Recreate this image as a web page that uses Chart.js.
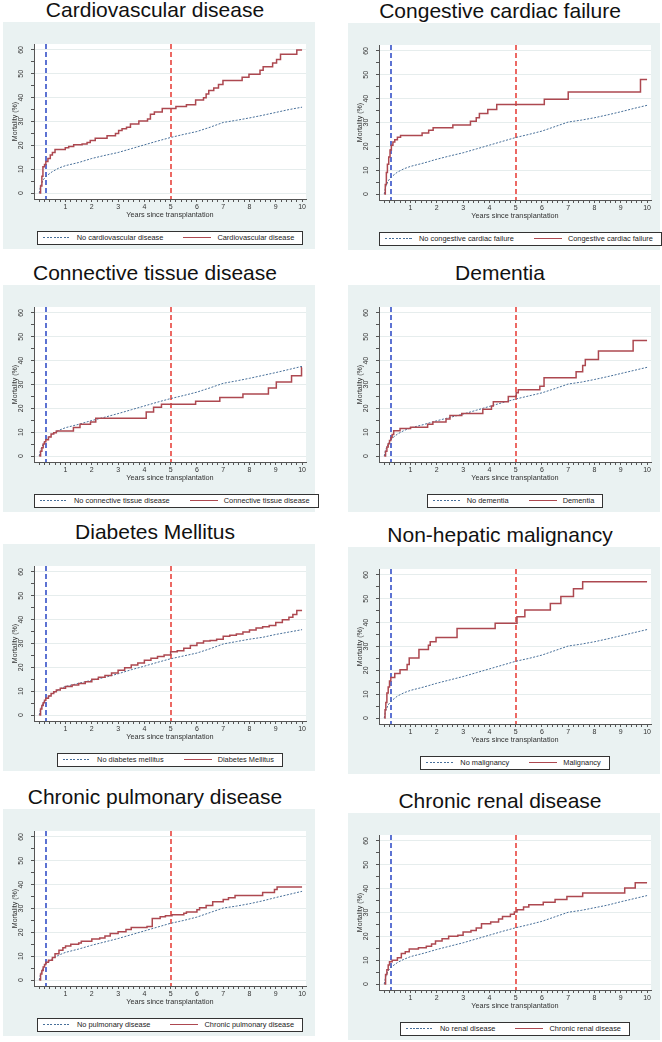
<!DOCTYPE html>
<html>
<head>
<meta charset="utf-8">
<title>Mortality after transplantation by comorbidity</title>
<script src="https://cdn.jsdelivr.net/npm/chart.js@4.4.1/dist/chart.umd.min.js"></script>
<style>
body { margin: 0; background: #fff; font-family: "Liberation Sans", Arial, sans-serif; }
#page { position: relative; width: 662px; height: 1042px; overflow: hidden; }
.ttl { position: absolute; width: 304px; text-align: center; font-size: 21px; line-height: 21px; color: #111; white-space: nowrap; }
.panel { position: absolute; width: 312px; height: 227px; background: #eaf2f2; }
.panel canvas { position: absolute; left: 0; top: 0; }
.lgwrap { position: absolute; left: 31px; top: 202px; width: 272px; text-align: center; }
.lg { display: inline-flex; align-items: center; height: 12px; border: 1px solid #333; background: #fff; padding: 0 8px 0 5px; gap: 20px; font-size: 7.4px; color: #222; }
.item { display: flex; align-items: center; white-space: nowrap; }
.key { width: 28px; margin-right: 6px; }
.key.dot { height: 1px; background: repeating-linear-gradient(to right, #48709a 0 2px, transparent 2px 3.5px); }
.key.solid { height: 1.5px; background: #ad4850; }
</style>
</head>
<body>
<div id="page"></div>
<script>
// time axis of the smooth reference curves (years)
const years = [0, 0.05, 0.15, 0.25, 0.5, 0.75, 1, 1.5, 2, 2.5, 3, 3.5, 4, 4.5, 5, 5.5, 6, 6.5, 7, 7.5, 8, 8.5, 9, 9.5, 10];

// patients without the comorbidity (%)
const noCvd = [0, 3, 5.5, 7, 9, 10.5, 11.5, 12.8, 14.5, 15.8, 17, 18.6, 20.2, 21.8, 23.3, 24.6, 25.8, 27.6, 29.6, 30.5, 31.5, 32.6, 33.8, 35, 36];
const noCcf = [0, 3, 5.5, 7, 9.2, 10.6, 11.6, 13, 14.6, 16, 17.3, 18.9, 20.5, 22.1, 23.7, 25, 26.4, 28.3, 30.2, 31, 32, 33.2, 34.5, 35.9, 37.2];
const noCtd = [0, 2.5, 5, 6.8, 9.3, 10.8, 11.9, 13.3, 14.9, 16.3, 17.8, 19.4, 21, 22.6, 24.1, 25.4, 26.8, 28.6, 30.5, 31.5, 32.6, 33.8, 35, 36.3, 37.6];
const noDem = [0, 2.5, 5, 7, 9.2, 10.7, 11.8, 13.2, 14.8, 16.2, 17.6, 19.2, 20.8, 22.4, 23.9, 25.2, 26.5, 28.3, 30.2, 31, 32.1, 33.3, 34.6, 35.9, 37.2];
const noDm = [0, 2.5, 5, 6.8, 9, 10.8, 12, 13.3, 14.6, 15.8, 17.3, 19, 20.5, 22.1, 23.6, 24.8, 26, 27.8, 29.8, 30.8, 31.8, 32.6, 33.8, 34.8, 35.8];
const noMal = [0, 3, 5.5, 7, 9.2, 10.6, 11.6, 13, 14.6, 16, 17.4, 19, 20.6, 22.2, 23.8, 25, 26.4, 28.3, 30.2, 31, 32, 33.2, 34.5, 35.8, 37.1];
const noPul = [0, 2.5, 5, 6.8, 9, 10.5, 11.6, 13, 14.6, 16, 17.4, 19, 20.6, 22.2, 23.8, 25, 26.4, 28.3, 30.2, 31, 32, 33.2, 34.6, 35.9, 37.2];
const noRen = [0, 3, 5.5, 7, 9, 10.4, 11.5, 12.9, 14.5, 15.9, 17.3, 18.9, 20.5, 22.1, 23.6, 24.9, 26.3, 28.2, 30.1, 30.9, 32, 33.1, 34.5, 35.8, 37.1];

// patients with the comorbidity: event times (years) and mortality after each step (%)
const cvdTimes = [0, 0.05, 0.1, 0.14, 0.2, 0.25, 0.33, 0.42, 0.5, 0.6, 0.99, 1.12, 1.31, 1.63, 1.82, 1.94, 2.13, 2.58, 2.9, 3.02, 3.15, 3.32, 3.47, 3.79, 4.12, 4.23, 4.38, 4.68, 5.2, 5.6, 5.95, 6.25, 6.35, 6.45, 6.64, 6.82, 6.99, 7.72, 7.98, 8.4, 8.52, 8.88, 9.03, 9.18, 9.8, 10];
const cvdValues = [0, 3, 7, 11, 12, 13.2, 14.5, 16, 17, 18.3, 19, 19.5, 20.2, 20.6, 21.2, 22, 23, 24, 25, 26.2, 27, 27.6, 29, 30.2, 31, 33, 34, 35.5, 36.3, 37, 39, 40, 41.5, 43, 44, 45.5, 47.2, 48.6, 49.8, 51.5, 53, 54.5, 56, 58.2, 60, 60];

const ccfTimes = [0, 0.04, 0.08, 0.12, 0.17, 0.22, 0.27, 0.33, 0.4, 0.5, 0.62, 1.44, 1.69, 1.86, 2.61, 3.28, 3.5, 3.62, 3.94, 4.28, 6.09, 7.0, 9.75, 10];
const ccfValues = [0, 4, 9, 12.5, 15.5, 18.5, 20.5, 21.8, 22.8, 23.8, 24.6, 25.6, 26.8, 27.8, 29, 30.5, 32, 33.8, 35.5, 37.5, 39.8, 42.8, 48, 48];

const ctdTimes = [0, 0.05, 0.1, 0.15, 0.2, 0.25, 0.35, 0.45, 0.55, 0.65, 1.3, 1.55, 1.95, 2.15, 4.07, 4.35, 4.65, 5.95, 6.87, 7.75, 8.72, 9.02, 9.6, 9.98, 10];
const ctdValues = [0, 2, 3.5, 5, 6, 6.8, 8, 9.2, 9.8, 10.5, 12, 13.3, 14.3, 15.8, 18.5, 20.5, 21.7, 23, 24.5, 26, 28.5, 31, 33.7, 37, 37];

const demTimes = [0, 0.05, 0.1, 0.15, 0.2, 0.25, 0.3, 0.36, 0.6, 1.0, 1.65, 1.85, 2.35, 2.5, 2.95, 3.75, 4.08, 4.15, 4.72, 5.02, 5.1, 5.92, 6.08, 7.3, 7.55, 7.65, 8.15, 9.47, 10];
const demValues = [0, 2, 3.8, 5.2, 6.5, 7.8, 9, 10.6, 11.6, 12.1, 13.3, 14.3, 15.5, 17, 17.8, 19.6, 21, 22.8, 25, 26.5, 27.8, 29.3, 32.8, 35.3, 38, 40.5, 44, 48.5, 48.5];

const dmTimes = [0, 0.05, 0.1, 0.15, 0.2, 0.25, 0.35, 0.45, 0.55, 0.65, 0.8, 1, 1.25, 1.5, 1.75, 2, 2.25, 2.5, 2.75, 3, 3.25, 3.5, 3.75, 4, 4.25, 4.5, 4.75, 5, 5.25, 5.5, 5.75, 6, 6.25, 6.5, 6.75, 7, 7.25, 7.5, 7.75, 8, 8.25, 8.5, 8.75, 9, 9.25, 9.5, 9.65, 9.8, 10];
const dmValues = [0, 2.5, 4, 5.2, 6.2, 7, 8, 9, 9.8, 10.5, 11.2, 12, 12.6, 13.2, 14, 15, 15.8, 16.6, 17.6, 18.8, 19.8, 21, 21.8, 23, 23.8, 24.5, 25.2, 26.5, 27, 28, 29.2, 30.2, 31, 31.3, 31.8, 33, 33.5, 34, 34.8, 35.7, 36.5, 37, 37.6, 38.8, 40, 41, 42.2, 43.8, 43.8];

const malTimes = [0, 0.03, 0.06, 0.1, 0.15, 0.2, 0.25, 0.4, 0.6, 0.87, 0.95, 1.32, 1.68, 1.75, 1.97, 2.77, 4.22, 5.05, 5.35, 6.32, 6.72, 7.2, 7.55, 10];
const malValues = [0, 3.5, 6.5, 10.5, 13, 15.5, 17, 18.7, 20.3, 22.5, 25.2, 28.7, 30.5, 32, 33.8, 37.5, 39.7, 42.5, 45.3, 48, 51, 54.2, 57.2, 57.2];

const pulTimes = [0, 0.05, 0.1, 0.15, 0.2, 0.25, 0.35, 0.5, 0.6, 0.75, 0.9, 1.0, 1.2, 1.5, 1.6, 2.0, 2.3, 2.5, 2.7, 3.0, 3.3, 3.5, 4.1, 4.3, 4.6, 4.8, 5.05, 5.5, 5.6, 6.0, 6.1, 6.35, 6.6, 7.0, 7.2, 7.45, 8.5, 8.95, 9.05, 10];
const pulValues = [0, 2.5, 4, 5.5, 6.5, 7.5, 8.3, 9.5, 11, 12.5, 13.5, 14.3, 15, 15.5, 16.3, 17.2, 17.6, 18.5, 19.5, 20.3, 21.2, 22, 22.5, 25.8, 26.5, 27, 27.4, 28, 28.5, 29.5, 30.3, 31.3, 32.8, 33.8, 34.5, 35.5, 36.7, 38, 39, 39];

const renTimes = [0, 0.05, 0.1, 0.15, 0.2, 0.3, 0.5, 0.65, 0.8, 0.95, 1.3, 1.6, 1.8, 1.95, 2.2, 2.45, 2.8, 3.0, 3.3, 3.5, 3.7, 4.05, 4.35, 4.5, 4.8, 4.95, 5.05, 5.3, 5.5, 6.05, 6.5, 6.95, 7.55, 9.15, 9.55, 10];
const renValues = [0, 4, 6, 8, 9.3, 10, 11, 12.8, 13.5, 14.7, 15.2, 15.8, 16.8, 18, 19, 20, 20.5, 21.8, 22.5, 23.5, 25.3, 26, 27.3, 28.3, 29.3, 30.2, 31.2, 32.3, 33.3, 34.3, 35.5, 36.7, 38.2, 40.3, 42.5, 42.5];

// vertical reference lines: 3 months and 5 years
const cutoffs = [0.25, 5];
const cutoffColors = ['#3550c8', '#e8443e'];

const xTickLabels = [1, 2, 3, 4, 5, 6, 7, 8, 9, 10];
const yTickLabels = [0, 10, 20, 30, 40, 50, 60];

const panels = [
  { title: 'Cardiovascular disease', noLabel: 'No cardiovascular disease', label: 'Cardiovascular disease', no: noCvd, t: cvdTimes, v: cvdValues },
  { title: 'Congestive cardiac failure', noLabel: 'No congestive cardiac failure', label: 'Congestive cardiac failure', no: noCcf, t: ccfTimes, v: ccfValues },
  { title: 'Connective tissue disease', noLabel: 'No connective tissue disease', label: 'Connective tissue disease', no: noCtd, t: ctdTimes, v: ctdValues },
  { title: 'Dementia', noLabel: 'No dementia', label: 'Dementia', no: noDem, t: demTimes, v: demValues },
  { title: 'Diabetes Mellitus', noLabel: 'No diabetes mellitus', label: 'Diabetes Mellitus', no: noDm, t: dmTimes, v: dmValues },
  { title: 'Non-hepatic malignancy', noLabel: 'No malignancy', label: 'Malignancy', no: noMal, t: malTimes, v: malValues },
  { title: 'Chronic pulmonary disease', noLabel: 'No pulmonary disease', label: 'Chronic pulmonary disease', no: noPul, t: pulTimes, v: pulValues },
  { title: 'Chronic renal disease', noLabel: 'No renal disease', label: 'Chronic renal disease', no: noRen, t: renTimes, v: renValues }
];

const panelLeft = [3, 348];
const panelTop = [22, 23, 285, 285, 544, 547, 809, 813];
const fontFam = '"Liberation Sans", Arial, sans-serif';

const plotBg = {
  id: 'plotBg',
  beforeDraw(chart) {
    const a = chart.chartArea;
    const ctx = chart.ctx;
    ctx.save();
    ctx.fillStyle = '#ffffff';
    ctx.fillRect(a.left, a.top, a.right - a.left, a.bottom - a.top);
    ctx.restore();
  }
};

const refLines = {
  id: 'refLines',
  beforeDatasetsDraw(chart) {
    const a = chart.chartArea;
    const ctx = chart.ctx;
    ctx.save();
    ctx.lineWidth = 1.6;
    ctx.setLineDash([5, 3]);
    cutoffs.forEach((c, i) => {
      const px = Math.round(chart.scales.x.getPixelForValue(c));
      ctx.strokeStyle = cutoffColors[i];
      ctx.beginPath();
      ctx.moveTo(px, a.top);
      ctx.lineTo(px, a.bottom);
      ctx.stroke();
    });
    ctx.restore();
  }
};

// Stata style y labels, turned to read bottom to top
const yLabels = {
  id: 'yLabels',
  afterDraw(chart) {
    const ys = chart.scales.y;
    const ctx = chart.ctx;
    const x = chart.chartArea.left - 12.5;
    ctx.save();
    ctx.fillStyle = '#333';
    ctx.font = '7px ' + fontFam;
    ctx.textAlign = 'center';
    ctx.textBaseline = 'middle';
    yTickLabels.forEach(v => {
      ctx.save();
      ctx.translate(x, ys.getPixelForValue(v));
      ctx.rotate(-Math.PI / 2);
      ctx.fillText(String(v), 0, 0);
      ctx.restore();
    });
    ctx.restore();
  }
};

const page = document.getElementById('page');

panels.forEach((p, i) => {
  const left = panelLeft[i % 2];
  const top = panelTop[i];

  const ttl = document.createElement('div');
  ttl.className = 'ttl';
  ttl.style.left = left + 'px';
  ttl.style.top = (top - 23) + 'px';
  ttl.textContent = p.title;
  page.appendChild(ttl);

  const box = document.createElement('div');
  box.className = 'panel';
  box.style.left = left + 'px';
  box.style.top = top + 'px';
  page.appendChild(box);

  const cv = document.createElement('canvas');
  cv.width = 312;
  cv.height = 200;
  box.appendChild(cv);

  const lgwrap = document.createElement('div');
  lgwrap.className = 'lgwrap';
  lgwrap.innerHTML = '<div class="lg"><div class="item"><div class="key dot"></div>' + p.noLabel +
    '</div><div class="item"><div class="key solid"></div>' + p.label + '</div></div>';
  box.appendChild(lgwrap);

  new Chart(cv.getContext('2d'), {
    type: 'line',
    data: {
      datasets: [
        {
          label: p.label,
          data: p.t.map((t, k) => ({ x: t, y: p.v[k] })),
          borderColor: '#ad4850',
          borderWidth: 1.5,
          stepped: true,
          pointRadius: 0
        },
        {
          label: p.noLabel,
          data: years.map((t, k) => ({ x: t, y: p.no[k] })),
          borderColor: '#48709a',
          borderWidth: 1,
          borderDash: [2, 1.5],
          pointRadius: 0
        }
      ]
    },
    options: {
      responsive: false,
      animation: false,
      devicePixelRatio: 1,
      layout: { padding: { top: 22, right: 9, left: 0, bottom: 0 } },
      plugins: { legend: { display: false }, tooltip: { enabled: false } },
      scales: {
        x: {
          type: 'linear',
          min: -0.2,
          max: 10.15,
          afterBuildTicks: s => {
            const ticks = [];
            for (let k = 0; k <= 50; k++) ticks.push({ value: k / 5 });
            s.ticks = ticks;
          },
          afterFit: s => { s.height = 23; },
          ticks: {
            autoSkip: false,
            minRotation: 0,
            maxRotation: 0,
            padding: 1,
            color: '#333',
            font: { size: 7, family: fontFam },
            callback: v => {
              const r = Math.round(v);
              return (Math.abs(v - r) < 1e-6 && xTickLabels.includes(r)) ? String(r) : '';
            }
          },
          grid: { drawOnChartArea: false, tickLength: 3, tickColor: '#555' },
          border: { display: true, color: '#555', width: 1 },
          title: {
            display: true,
            text: 'Years since transplantation',
            color: '#333',
            padding: { top: 0, bottom: 3 },
            font: { size: 7.3, family: fontFam }
          }
        },
        y: {
          min: -2.5,
          max: 62.5,
          afterBuildTicks: s => {
            const ticks = [];
            for (let k = 0; k <= 12; k++) ticks.push({ value: k * 5 });
            s.ticks = ticks;
          },
          afterFit: s => { s.width = 31; },
          ticks: { display: false },
          grid: {
            tickLength: 3,
            tickColor: '#555',
            color: c => (c.tick && c.tick.value % 10 === 0) ? '#e6eded' : 'rgba(0,0,0,0)'
          },
          border: { display: true, color: '#555', width: 1 },
          title: {
            display: true,
            text: 'Mortality (%)',
            color: '#333',
            padding: { top: 8, bottom: 0 },
            font: { size: 7, family: fontFam }
          }
        }
      }
    },
    plugins: [plotBg, refLines, yLabels]
  });
});
</script>
</body>
</html>
